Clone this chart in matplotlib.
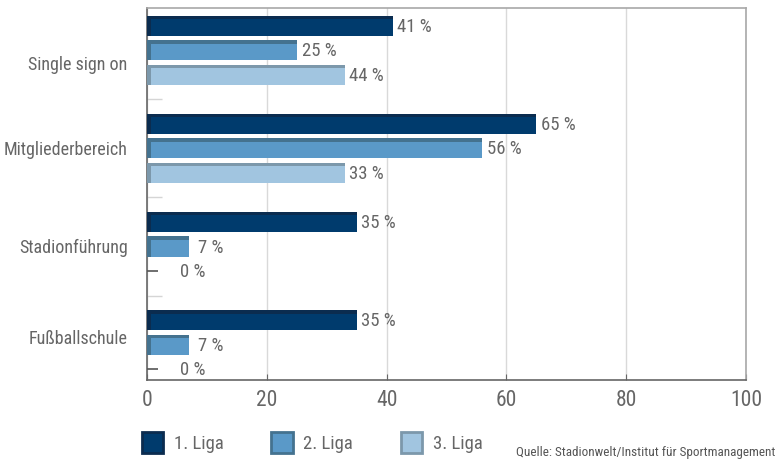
import numpy as np
import matplotlib.pyplot as plt
from matplotlib import font_manager

# data
categories = ["Single sign on", "Mitgliederbereich", "Stadionführung", "Fußballschule"]
series = ["1. Liga", "2. Liga", "3. Liga"]
liga1 = [41, 65, 35, 35]
liga2 = [25, 56, 7, 7]
liga3 = [33, 33, 0, 0]
# printed labels (the source prints 44 % for a bar that ends at 33)
labels1 = ["41 %", "65 %", "35 %", "35 %"]
labels2 = ["25 %", "56 %", "7 %", "7 %"]
labels3 = ["44 %", "33 %", "0 %", "0 %"]
xticks = [0, 20, 40, 60, 80, 100]
source = "Quelle: Stadionwelt/Institut für Sportmanagement"

names = {f.name for f in font_manager.fontManager.ttflist}
fam = [n for n in ["Roboto Condensed", "Liberation Sans Narrow", "Liberation Sans"] if n in names] + ["DejaVu Sans"]
plt.rcParams['font.family'] = fam

colors = ["#003b6d", "#5a99c8", "#a1c5e0"]
tops = ["#0b2c4f", "#44728f", "#7c98ab"]
text_c = "#666666"

fig = plt.figure(figsize=(7.76, 4.61), dpi=100)
ax = fig.add_axes([0.1894, 0.1757, 0.7719, 0.8069])

y = np.arange(len(categories))
# the category labels sit a bit off the group centres in the source
label_shift = [0.13, 0.0, -0.01, -0.08]
off = 0.25
h = 0.17
d = 0.035

for k, (vals, labs) in enumerate(zip([liga1, liga2, liga3], [labels1, labels2, labels3])):
    yy = y + (k - 1) * off
    ax.barh(yy + d / 2, vals, height=h, color=colors[k], linewidth=0, zorder=3)
    ax.barh(yy - h / 2, vals, height=d, color=tops[k], linewidth=0, zorder=3)
    ax.barh(yy + d / 2, [0.6 if v > 0 else 0 for v in vals], height=h, color=tops[k], linewidth=0, zorder=4)
    for yi, v, lab in zip(yy, vals, labs):
        if v == 0:
            ax.plot([0], [yi], marker="_", markersize=16, color="#555555", mew=1.2, zorder=4)
        xt = max(v, 4) + 1.5 if v < 10 else v + 0.8
        ax.text(xt, yi + 0.01, lab, va="center", ha="left", fontsize=13.5, color=text_c)

ax.set_xlim(0, 100)
ax.set_ylim(3.36, -0.43)
ax.set_xticks(xticks)
ax.set_xticklabels([str(t) for t in xticks])
ax.set_yticks(y + np.array(label_shift))
ax.set_yticklabels(categories)
ax.set_yticks(y[:-1] + 0.5, minor=True)
ax.tick_params(axis="y", which="major", length=0, pad=14, labelsize=13, labelcolor=text_c)
ax.tick_params(axis="y", which="minor", direction="in", length=11, color="#d5d5d5", width=1)
ax.tick_params(axis="x", direction="in", length=4, color="#666666", labelsize=15.5, labelcolor=text_c, pad=7)
ax.grid(axis="x", color="#d9d9d9", linewidth=1, zorder=0)
ax.set_axisbelow(True)
for s in ["left", "bottom"]:
    ax.spines[s].set_color("#666666")
    ax.spines[s].set_linewidth(1.2)
for s in ["top", "right"]:
    ax.spines[s].set_color("#a8a8a8")
    ax.spines[s].set_linewidth(1.2)

# legend
handles = [plt.Rectangle((0, 0), 1, 1, facecolor=c, edgecolor=t, linewidth=2) for c, t in zip(colors, tops)]
leg = fig.legend(handles, series, loc="lower left", bbox_to_anchor=(0.161, -0.02), ncol=3, frameon=False,
                 fontsize=13.5, handlelength=1.15, handleheight=1.4, columnspacing=2.55, handletextpad=0.55)
for t in leg.get_texts():
    t.set_color(text_c)

fig.text(0.999, 0.004, source, ha="right", va="bottom", fontsize=9.5, color="#555555")

fig.savefig("out.png", dpi=100)
